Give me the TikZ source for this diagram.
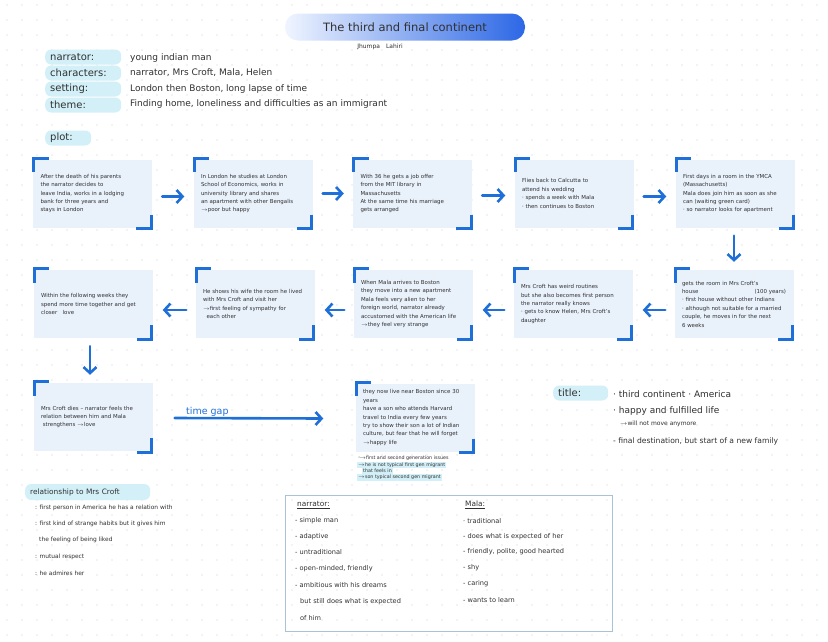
\documentclass[tikz,border=0pt]{standalone}
\usepackage{fontspec}
\setmainfont{DejaVu Sans}
\usetikzlibrary{arrows.meta,calc}
\definecolor{nblue}{HTML}{1F6FD8}
\definecolor{nfill}{HTML}{E9F1FB}
\definecolor{hl}{HTML}{D3F0F8}
\definecolor{dotc}{HTML}{CFCFCF}
\definecolor{ink}{HTML}{303030}
\definecolor{frame}{HTML}{A8C2D8}
\definecolor{tleft}{HTML}{F0F5FF}
\definecolor{tmid}{HTML}{A6C3F7}
\definecolor{tright}{HTML}{2C67E6}
\begin{document}
\begin{tikzpicture}[x=1pt,y=-1pt,
 card/.style={fill=nfill, minimum width=119pt, minimum height=68pt, text width=104pt, inner xsep=7.5pt, align=left, font=\fontsize{5.45}{8.4}\selectfont, text=ink},
 bracket/.style={draw=nblue, line width=3pt},
 flow/.style={draw=nblue, line width=2.6pt, line cap=round, -{Straight Barb[length=6pt,width=13pt]}},
 hdr/.style={fill=hl, rounded corners=6pt, anchor=west, minimum height=15pt, inner xsep=5pt, inner ysep=0pt, align=left, font=\fontsize{10}{12}\selectfont, text=ink},
 val/.style={font=\fontsize{9}{11}\selectfont, text=ink, anchor=west, inner sep=0pt},
 small/.style={font=\fontsize{5.9}{7}\selectfont, text=ink, anchor=west, inner sep=0pt},
 col/.style={font=\fontsize{6.6}{8}\selectfont, text=ink, anchor=west, inner sep=0pt},
 tiny/.style={font=\fontsize{4.8}{5.6}\selectfont, text=ink, anchor=west, inner xsep=1pt, inner ysep=0.8pt},
]
\useasboundingbox (0,0) rectangle (828,641);
\fill[white] (0,0) rectangle (828,641);
\foreach \i in {0,...,55} \foreach \j in {0,...,42} \fill[dotc] (7+15*\i, 5+15*\j) circle[radius=0.65pt];

% title
\node[rounded corners=13pt, left color=tleft, middle color=tmid, right color=tright, minimum width=240pt, minimum height=27pt, font=\fontsize{11.5}{13}\selectfont, text=ink] (ttl) at (405,27) {The third and final continent};
\node[font=\fontsize{6}{7}\selectfont, text=ink, inner sep=0pt] (auth) at (380,47) {Jhumpa\quad Lahiri};

% header
\node[hdr, minimum width=76pt, text width=66pt] (hn) at (45,57) {narrator:};
\node[hdr, minimum width=76pt, text width=66pt] (hc) at (45,73) {characters:};
\node[hdr, minimum width=76pt, text width=66pt] (hs) at (45,89) {setting:};
\node[hdr, minimum width=76pt, text width=66pt] (ht) at (45,105) {theme:};
\node[val] (vn) at (130,58) {young indian man};
\node[val] (vc) at (130,73) {narrator, Mrs Croft, Mala, Helen};
\node[val] (vs) at (130,89) {London then Boston, long lapse of time};
\node[val] (vt) at (130,104) {Finding home, loneliness and difficulties as an immigrant};
\node[hdr, minimum width=46pt, text width=36pt] (plot) at (45,138) {plot:};

% row 1
\node[card] (b1) at (92.5,193.5) {After the death of his parents\\ the narrator decides to\\ leave India, works in a lodging\\ bank for three years and\\ stays in London};
\node[card] (b2) at (253,193.5) {In London he studies at London\\ School of Economics, works in\\ university library and shares\\ an apartment with other Bengalis\\ $\rightarrow$poor but happy};
\node[card] (b3) at (412.5,193.5) {With 36 he gets a job offer\\ from the MIT library in\\ Massachusetts\\ At the same time his marriage\\ gets arranged};
\node[card] (b4) at (574,193.5) {Flies back to Calcutta to\\ attend his wedding\\ · spends a week with Mala\\ · then continues to Boston};
\node[card] (b5) at (735,193.5) {First days in a room in the YMCA\\ (Massachusetts)\\ Mala does join him as soon as she\\ can (waiting green card)\\ · so narrator looks for apartment};
% row 2
\node[card] (b6) at (734,304) {gets the room in Mrs Croft's\\ house \hfill (100 years)\\ · first house without other Indians\\ · although not suitable for a married\\ couple, he moves in for the next\\ 6 weeks};
\node[card] (b7) at (573,304) {Mrs Croft has weird routines\\ but she also becomes first person\\ the narrator really knows\\ · gets to know Helen, Mrs Croft's\\ daughter};
\node[card] (b8) at (413,304) {When Mala arrives to Boston\\ they move into a new apartment\\ Mala feels very alien to her\\ foreign world, narrator already\\ accustomed with the American life\\ $\rightarrow$they feel very strange};
\node[card] (b9) at (255,304) {He shows his wife the room he lived\\ with Mrs Croft and visit her\\ $\rightarrow$first feeling of sympathy for\\ \ \ each other};
\node[card] (b10) at (93,304) {Within the following weeks they\\ spend more time together and get\\ closer \ \ love};
% row 3
\node[card] (b11) at (93,417) {Mrs Croft dies -- narrator feels the\\ relation between him and Mala\\ \ strengthens $\rightarrow$love};
\node[card] (b12) at (415,417.5) {they now live near Boston since 30\\ years\\ have a son who attends Harvard\\ travel to India every few years\\ try to show their son a lot of Indian\\ culture, but fear that he will forget\\ $\rightarrow$happy life};

\foreach \b in {b1,b2,b3,b4,b5,b6,b7,b8,b9,b10,b11,b12}{
  \draw[bracket] ($(\b.north west)+(1,13)$) -- ($(\b.north west)+(1,-1)$) -- ++(15,0);
  \draw[bracket] ($(\b.south east)+(-1,-13)$) -- ($(\b.south east)+(-1,1)$) -- ++(-15,0);
}

\draw[flow] ($(b1.east)+(10,3)$) -- ($(b2.west)+(-9,3)$);
\draw[flow] ($(b2.east)+(10,0)$) -- ($(b3.west)+(-9,0)$);
\draw[flow] ($(b3.east)+(10,2)$) -- ($(b4.west)+(-9,2)$);
\draw[flow] ($(b4.east)+(10,3)$) -- ($(b5.west)+(-9,3)$);
\draw[flow] ($(b5.south)+(-1,8)$) -- ($(b6.north)+(0,-8)$);
\draw[flow] ($(b6.west)+(-9,6)$) -- ($(b7.east)+(10,6)$);
\draw[flow] ($(b7.west)+(-9,6)$) -- ($(b8.east)+(10,6)$);
\draw[flow] ($(b8.west)+(-9,6)$) -- ($(b9.east)+(10,6)$);
\draw[flow] ($(b9.west)+(-9,6)$) -- ($(b10.east)+(10,6)$);
\draw[flow] ($(b10.south)+(-3,8)$) -- ($(b11.north)+(-3,-8)$);
\draw[flow] ($(b11.east)+(22,1)$) -- node[pos=0.22, above=0.5pt, font=\fontsize{9.5}{11}\selectfont, text=nblue, inner sep=0pt] (tg) {time gap} ($(b12.west)+(-32,1)$);

% under b12
\node[tiny] (u1) at (357,458) {$\hookrightarrow$first and second generation issues};
\node[tiny, fill=hl] (u2) at (357,465) {$\rightarrow$he is not typical first gen migrant};
\node[tiny, fill=hl] (u3) at (362,471) {that feels in};
\node[tiny, fill=hl] (u4) at (357,477.5) {$\rightarrow$son typical second gen migrant};

% title section
\node[hdr, minimum width=55pt, text width=45pt] (ti) at (553,393) {title:};
\node[val] (t1) at (613,394) {· third continent · America};
\node[val] (t2) at (613,411) {· happy and fulfilled life};
\node[small, font=\fontsize{6}{7}\selectfont] (t3) at (620,424) {$\rightarrow$will not move anymore};
\node[val, font=\fontsize{7.6}{9}\selectfont] (t4) at (613,441) {- final destination, but start of a new family};

% relationship
\node[hdr, minimum width=125pt, text width=115pt, minimum height=16pt, font=\fontsize{7.4}{9}\selectfont] (rel) at (25,492) {relationship to Mrs Croft};
\node[small] (r1) at (35,508) {: first person in America he has a relation with};
\node[small] (r2) at (35,524) {: first kind of strange habits but it gives him};
\node[small] (r3) at (39,540) {the feeling of being liked};
\node[small] (r4) at (35,557) {: mutual respect};
\node[small] (r5) at (35,573) {: he admires her};

% characters box
\node[draw=frame, line width=1.2pt, minimum width=327pt, minimum height=136pt, anchor=north west] (cbox) at (285,495) {};
\node[col, font=\fontsize{7.4}{9}\selectfont] (na) at (297,505) {\underline{narrator:}};
\node[col] (n1) at (295,521) {- simple man};
\node[col] (n2) at (295,537) {- adaptive};
\node[col] (n3) at (295,552) {- untraditional};
\node[col] (n4) at (295,569) {- open-minded, friendly};
\node[col] (n5) at (295,585) {- ambitious with his dreams};
\node[col] (n6) at (300,602) {but still does what is expected};
\node[col] (n7) at (300,618) {of him};
\node[col, font=\fontsize{7.4}{9}\selectfont] (ma) at (465,505) {\underline{Mala:}};
\node[col] (m1) at (463,521) {· traditional};
\node[col] (m2) at (463,537) {- does what is expected of her};
\node[col] (m3) at (463,552) {- friendly, polite, good hearted};
\node[col] (m4) at (463,568) {- shy};
\node[col] (m5) at (463,584) {- caring};
\node[col] (m6) at (463,600) {- wants to learn};
\end{tikzpicture}
\end{document}
